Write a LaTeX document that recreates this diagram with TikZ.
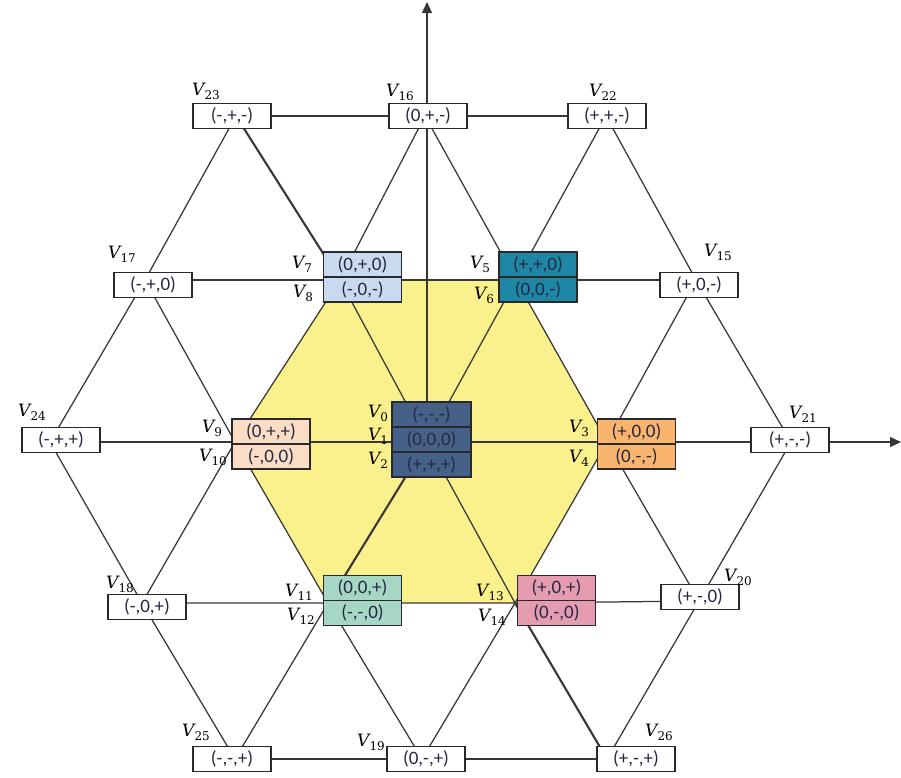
\documentclass[tikz,border=0pt]{standalone}
\usepackage{fontspec}
\setsansfont{Carlito}
\newfontfamily\lblfont{DejaVu Serif}
\usetikzlibrary{arrows.meta}

\definecolor{linecol}{RGB}{55,55,55}
\definecolor{boxline}{RGB}{40,40,45}
\definecolor{boxtext}{RGB}{38,40,68}
\definecolor{hexfill}{RGB}{251,241,140}
\definecolor{cblue}{RGB}{201,218,240}
\definecolor{cteal}{RGB}{30,135,165}
\definecolor{cslate}{RGB}{70,97,135}
\definecolor{cpeach}{RGB}{250,221,196}
\definecolor{corange}{RGB}{249,180,110}
\definecolor{cmint}{RGB}{166,215,196}
\definecolor{cpink}{RGB}{229,156,176}

% vertex name: italic V with an upright lowered index
\newcommand{\vname}[1]{{\lblfont\fontsize{17}{17}\selectfont\itshape V}%
  \raisebox{-4pt}{\lblfont\fontsize{12}{12}\selectfont #1}}

\begin{document}
\begin{tikzpicture}[x=1pt,y=-1pt,
  lat/.style={draw=linecol, line width=1.25pt},
  latbold/.style={draw=linecol, line width=2.1pt},
  axis/.style={draw=linecol, line width=1.3pt, -{Triangle[length=11pt,width=10pt]}},
  vbox/.style={draw=boxline, line width=1.5pt, fill=white, minimum width=78pt,
    minimum height=25pt, inner sep=0pt, text=boxtext,
    font=\sffamily\fontsize{19}{19}\selectfont},
  vlbl/.style={inner sep=0pt}]
\useasboundingbox (0,0) rectangle (901,777);

% lattice points
\coordinate (l23) at (236,116);
\coordinate (l16) at (425,116);
\coordinate (l22) at (606,116);
\coordinate (l17) at (145,280);
\coordinate (l7)  at (340,280);
\coordinate (l5)  at (516,280);
\coordinate (l15) at (696,280);
\coordinate (l24) at (50,442);
\coordinate (l9)  at (235,442);
\coordinate (lO)  at (427,442);
\coordinate (l3)  at (607,442);
\coordinate (l21) at (791,442);
\coordinate (l18) at (142,603);
\coordinate (l11) at (328,603);
\coordinate (l13) at (515,603);
\coordinate (l20) at (699,601);
\coordinate (l25) at (235,759);
\coordinate (l19) at (422,759);
\coordinate (l26) at (607,759);
\coordinate (ytip) at (427,2);
\coordinate (xtip) at (901,442);

% inner hexagon
\fill[hexfill] (l7) -- (l5) -- (l3) -- (l13) -- (l11) -- (l9) -- cycle;

% axes
\draw[axis] (lO) -- (ytip);
\draw[axis] (l21) -- (xtip);

% horizontal rows
\draw[lat] (l23) -- (l16) -- (l22);
\draw[lat] (l17) -- (l7);
\draw[latbold] (l7) -- (l5);
\draw[lat] (l5) -- (l15);
\draw[lat] (l24) -- (l9) -- (lO) -- (l3) -- (l21);
\draw[lat] (l18) -- (l11) -- (l13) -- (l20);
\draw[lat] (l25) -- (l19) -- (l26);

% diagonals
\draw[lat] (l23) -- (l17);
\draw[latbold] (l23) -- (l7);
\draw[lat] (l16) -- (l7);
\draw[lat] (l16) -- (l5);
\draw[lat] (l22) -- (l5);
\draw[lat] (l22) -- (l15);
\draw[lat] (l17) -- (l24);
\draw[lat] (l17) -- (l9);
\draw[lat] (l7) -- (l9);
\draw[lat] (l7) -- (lO);
\draw[lat] (l5) -- (lO);
\draw[lat] (l5) -- (l3);
\draw[lat] (l15) -- (l3);
\draw[lat] (l15) -- (l21);
\draw[lat] (l24) -- (l18);
\draw[lat] (l9) -- (l18);
\draw[lat] (l9) -- (l11);
\draw[latbold] (lO) -- (l11);
\draw[lat] (lO) -- (l13);
\draw[lat] (l3) -- (l13);
\draw[lat] (l3) -- (l20);
\draw[lat] (l21) -- (l20);
\draw[lat] (l18) -- (l25);
\draw[lat] (l11) -- (l25);
\draw[lat] (l11) -- (l19);
\draw[lat] (l13) -- (l19);
\draw[latbold] (l13) -- (l26);
\draw[lat] (l20) -- (l26);

% outer single boxes
\node[vbox] (v23) at (232,116) {(-,+,-)};
\node[vbox] (v16) at (428,116) {(0,+,-)};
\node[vbox] (v22) at (607,116) {(+,+,-)};
\node[vbox] (v17) at (153,285) {(-,+,0)};
\node[vbox] (v15) at (699,285) {(+,0,-)};
\node[vbox] (v24) at (61,440) {(-,+,+)};
\node[vbox] (v21) at (790,440) {(+,-,-)};
\node[vbox] (v18) at (147,607) {(-,0,+)};
\node[vbox] (v20) at (700,597) {(+,-,0)};
\node[vbox] (v25) at (232,759) {(-,-,+)};
\node[vbox] (v19) at (426,759) {(0,-,+)};
\node[vbox] (v26) at (636,759) {(+,-,+)};

% inner stacked boxes
\node[vbox, fill=cblue]   (v7)  at (362.5,264.5) {(0,+,0)};
\node[vbox, fill=cblue]   (v8)  at (362.5,289.5) {(-,0,-)};
\node[vbox, fill=cteal]   (v5)  at (538,264.5) {(+,+,0)};
\node[vbox, fill=cteal]   (v6)  at (538,289.5) {(0,0,-)};
\node[vbox, fill=cpeach]  (v9)  at (271,431.5) {(0,+,+)};
\node[vbox, fill=cpeach]  (v10) at (271,456.5) {(-,0,0)};
\node[vbox, fill=corange] (v3)  at (636.5,431.5) {(+,0,0)};
\node[vbox, fill=corange] (v4)  at (636.5,456.5) {(0,-,-)};
\node[vbox, fill=cmint]   (v11) at (362.5,588) {(0,0,+)};
\node[vbox, fill=cmint]   (v12) at (362.5,613) {(-,-,0)};
\node[vbox, fill=cpink]   (v13) at (556.5,588) {(+,0,+)};
\node[vbox, fill=cpink]   (v14) at (556.5,613) {(0,-,0)};
\node[vbox, fill=cslate, minimum width=79pt] (v0) at (431.5,414.5) {(-,-,-)};
\node[vbox, fill=cslate, minimum width=79pt] (v1) at (431.5,439.5) {(0,0,0)};
\node[vbox, fill=cslate, minimum width=79pt] (v2) at (431.5,464.5) {(+,+,+)};

% vertex labels
\node[vlbl] (t23) at (206,91)  {\vname{23}};
\node[vlbl] (t16) at (400,92)  {\vname{16}};
\node[vlbl] (t22) at (603,92)  {\vname{22}};
\node[vlbl] (t17) at (122,254) {\vname{17}};
\node[vlbl] (t15) at (718,252) {\vname{15}};
\node[vlbl] (t7)  at (302,264) {\vname{7}};
\node[vlbl] (t8)  at (303,293) {\vname{8}};
\node[vlbl] (t5)  at (480,264) {\vname{5}};
\node[vlbl] (t6)  at (484,295) {\vname{6}};
\node[vlbl] (t24) at (32,412)  {\vname{24}};
\node[vlbl] (t21) at (803,414) {\vname{21}};
\node[vlbl] (t9)  at (212,428) {\vname{9}};
\node[vlbl] (t10) at (213,457) {\vname{10}};
\node[vlbl] (t0)  at (378,413) {\vname{0}};
\node[vlbl] (t1)  at (378,436) {\vname{1}};
\node[vlbl] (t2)  at (378,460) {\vname{2}};
\node[vlbl] (t3)  at (579,428) {\vname{3}};
\node[vlbl] (t4)  at (579,458) {\vname{4}};
\node[vlbl] (t18) at (120,584) {\vname{18}};
\node[vlbl] (t20) at (738,577) {\vname{20}};
\node[vlbl] (t11) at (299,592) {\vname{11}};
\node[vlbl] (t12) at (301,616) {\vname{12}};
\node[vlbl] (t13) at (490,592) {\vname{13}};
\node[vlbl] (t14) at (492,617) {\vname{14}};
\node[vlbl] (t25) at (196,732) {\vname{25}};
\node[vlbl] (t19) at (371,742) {\vname{19}};
\node[vlbl] (t26) at (659,732) {\vname{26}};
\end{tikzpicture}
\end{document}
